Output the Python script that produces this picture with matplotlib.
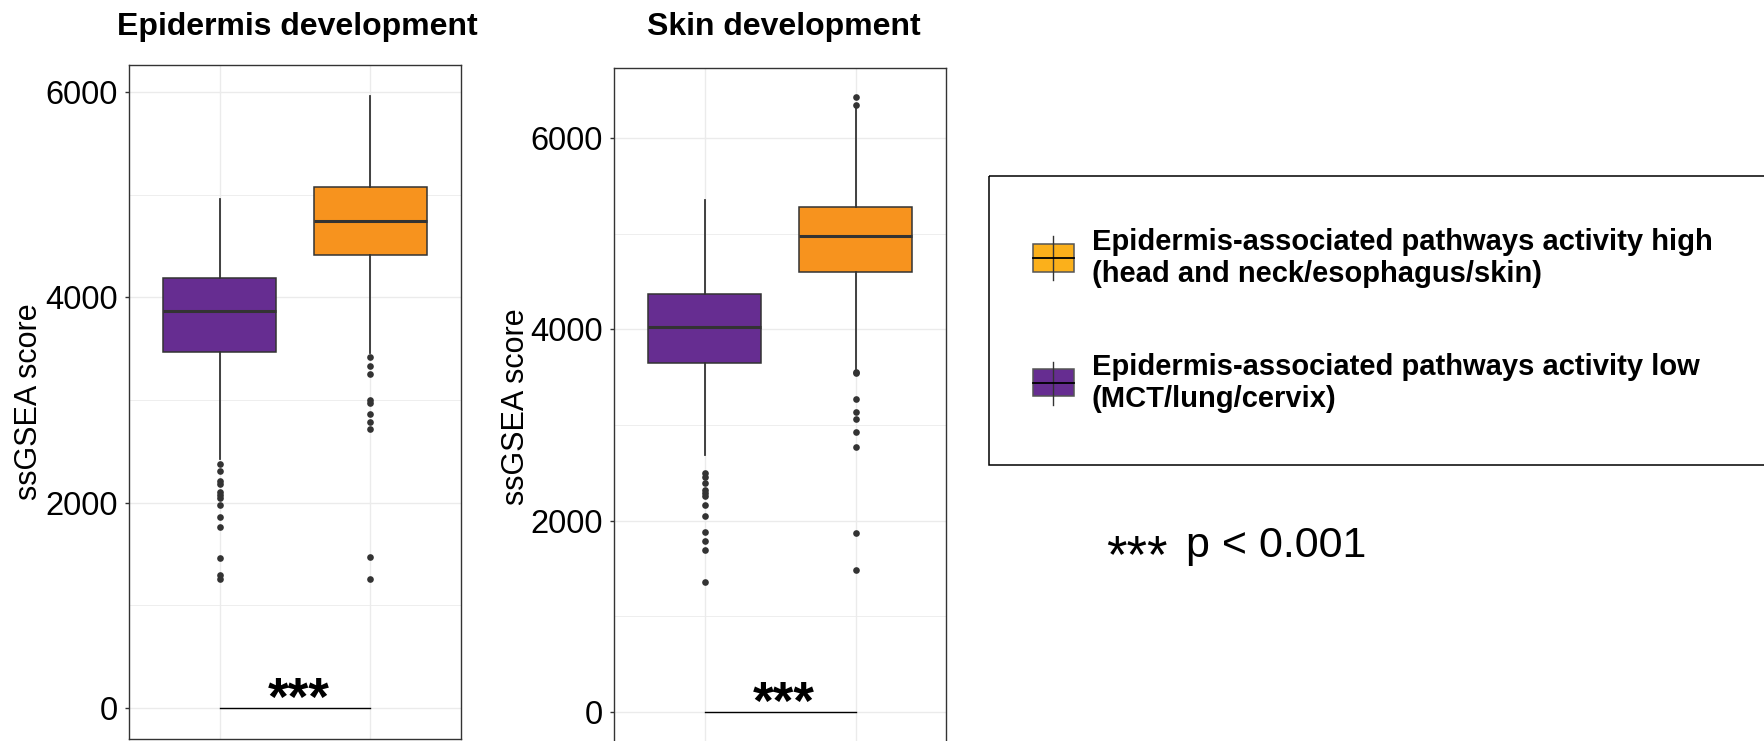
import matplotlib
matplotlib.use("Agg")
import matplotlib.pyplot as plt
from matplotlib.patches import Rectangle

plt.rcParams['font.family'] = ['Liberation Sans', 'DejaVu Sans']

# ---- data ----
titles = ["Epidermis development", "Skin development"]
groups = ["low", "high"]   # x = 1 purple, x = 2 orange

# Epidermis development
epi_low_box = [2423, 3470, 3868, 4191, 4957]     # whislo, q1, med, q3, whishi
epi_low_out = [2374, 2309, 2211, 2182, 2107, 2075, 2043, 1978, 1858, 1766, 1464, 1296, 1254]
epi_high_box = [3455, 4412, 4740, 5072, 5958]
epi_high_out = [3422, 3334, 3253, 3000, 2968, 2861, 2789, 2715, 1472, 1256]

# Skin development
skin_low_box = [2687, 3652, 4024, 4371, 5356]
skin_low_out = [2495, 2460, 2397, 2321, 2286, 2258, 2164, 2052, 1885, 1791, 1694, 1356]
skin_high_box = [3590, 4599, 4980, 5282, 6318]
skin_high_out = [6430, 6342, 3557, 3540, 3272, 3139, 3060, 2930, 2773, 1868, 1485]

yticks = [0, 2000, 4000, 6000]
yminor = [1000, 3000, 5000]
ylims = [(-301, 6267), (-344, 6733)]
signif = "***"

legend_lines = [["Epidermis-associated pathways activity high", "(head and neck/esophagus/skin)"],
                ["Epidermis-associated pathways activity low", "(MCT/lung/cervix)"]]

col_low = '#662D91'
col_high = '#F7931E'
col_high_key = '#FBB01B'
dark = '#333333'

W, H = 1765, 741
fig = plt.figure(figsize=(W / 100, H / 100), dpi=100)

# axes rectangles in pixels: left, top, right, bottom
ax_px = [(129, 64.5, 461, 739), (614.3, 67.8, 946, 745)]
ylab_x = [-0.255, -0.25]
title_x = [297, 784]

boxes = [(epi_low_box, epi_low_out, epi_high_box, epi_high_out),
         (skin_low_box, skin_low_out, skin_high_box, skin_high_out)]


def make_stats(b, out):
    return dict(whislo=b[0], q1=b[1], med=b[2], q3=b[3], whishi=b[4], fliers=out)


for i in range(2):
    l, t, r, b = ax_px[i]
    ax = fig.add_axes([l / W, (H - b) / H, (r - l) / W, (b - t) / H])
    lo_b, lo_o, hi_b, hi_o = boxes[i]
    stats = [make_stats(lo_b, lo_o), make_stats(hi_b, hi_o)]
    bp = ax.bxp(stats, positions=[1, 2], widths=0.75, patch_artist=True,
                boxprops=dict(edgecolor=dark, linewidth=1.1),
                medianprops=dict(color=dark, linewidth=2.2),
                whiskerprops=dict(color=dark, linewidth=1.3),
                capprops=dict(linewidth=0),
                flierprops=dict(marker='o', markersize=4.8, markerfacecolor=dark,
                                markeredgecolor='none'),
                zorder=3)
    bp['boxes'][0].set_facecolor(col_low)
    bp['boxes'][1].set_facecolor(col_high)

    ax.set_xlim(0.4, 2.6)
    ax.set_ylim(*ylims[i])
    ax.set_xticks([1, 2])
    ax.set_xticklabels(["", ""])
    ax.tick_params(axis='x', length=0)
    ax.set_yticks(yticks)
    ax.set_yticks(yminor, minor=True)
    ax.tick_params(axis='y', which='major', labelsize=23.5, length=3, width=1.0,
                   color=dark, pad=5, labelcolor='black')
    ax.tick_params(axis='y', which='minor', length=0)
    ax.grid(True, which='major', color='#EBEBEB', linewidth=1.0, zorder=0)
    ax.grid(True, which='minor', axis='y', color='#EBEBEB', linewidth=0.6, zorder=0)
    ax.set_axisbelow(True)
    for s in ax.spines.values():
        s.set_color(dark)
        s.set_linewidth(1.0)

    ax.set_ylabel("ssGSEA score", fontsize=22)
    ax.yaxis.set_label_coords(ylab_x[i], 0.5)

    # significance bar
    ax.plot([1, 2], [0, 0], color='black', linewidth=1.0, zorder=4)
    ax.annotate(signif, xy=(1.5, 0), xytext=(4, -7), textcoords='offset pixels',
                ha='center', va='baseline', fontsize=38, fontweight='bold', color='black')

    fig.text(title_x[i] / W, 1 - 35.5 / H, titles[i], ha='center', va='baseline',
             fontsize=23, fontweight='bold')

# ---- legend and p-value note, drawn in pixel coords ----
ov = fig.add_axes([0, 0, 1, 1])
ov.set_xlim(0, W)
ov.set_ylim(H, 0)
ov.axis('off')

ov.add_patch(Rectangle((989, 175.7), 800, 465 - 175.7, fill=False,
                       edgecolor='black', linewidth=1.1))

key_cols = [col_high_key, col_low]
key_rows = [(236, 244.3, 258.3, 271.7, 280), (361.7, 369.3, 383.3, 396, 405)]
text_base = [250, 375]
for k in range(2):
    wt, bt, md, bb, wb = key_rows[k]
    ov.plot([1053.5, 1053.5], [wt, wb], color=dark, linewidth=1.0)
    ov.add_patch(Rectangle((1033.5, bt), 40.5, bb - bt, facecolor=key_cols[k],
                           edgecolor='#555555', linewidth=1.1))
    ov.plot([1033.5, 1074], [md, md], color='black', linewidth=1.3)
    for j, line in enumerate(legend_lines[k]):
        ov.text(1092, text_base[k] + 32 * j, line, ha='left', va='baseline',
                fontsize=21, fontweight='bold')

ov.text(1106, 572, "***", ha='left', va='baseline', fontsize=38)
ov.text(1186, 557, "p < 0.001", ha='left', va='baseline', fontsize=31)

fig.savefig("out.png", dpi=100)
